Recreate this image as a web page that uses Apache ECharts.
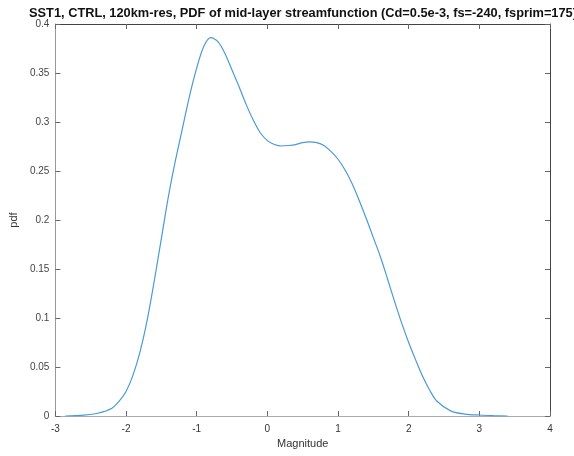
<!DOCTYPE html>
<html><head><meta charset="utf-8">
<script src="https://cdn.jsdelivr.net/npm/echarts@6/dist/echarts.min.js"></script>
<style>html,body{margin:0;padding:0;background:#fff}#c{width:574px;height:456px}</style>
</head><body><div id="c"></div>
<script>
const titleText = 'SST1, CTRL, 120km-res, PDF of mid-layer streamfunction (Cd=0.5e-3, fs=-240, fsprim=175)';
const xLabel = 'Magnitude';
const yLabel = 'pdf';
const xTicks = [-3, -2, -1, 0, 1, 2, 3, 4];
const yTicks = [0, 0.05, 0.1, 0.15, 0.2, 0.25, 0.3, 0.35, 0.4];
const magnitude = [-2.86, -2.6, -2.4, -2.2, -2.1, -2.0, -1.9, -1.8, -1.7, -1.6, -1.5, -1.4, -1.3, -1.2, -1.1, -1.0, -0.9, -0.8, -0.7, -0.6, -0.5, -0.4, -0.3, -0.2, -0.1, 0.0, 0.1, 0.2, 0.3, 0.4, 0.5, 0.6, 0.7, 0.8, 0.9, 1.0, 1.1, 1.2, 1.3, 1.4, 1.5, 1.6, 1.7, 1.8, 1.9, 2.0, 2.1, 2.2, 2.3, 2.4, 2.6, 2.8, 3.0, 3.2, 3.4];
const pdf = [0.0, 0.0008, 0.0028, 0.008, 0.015, 0.025, 0.042, 0.066, 0.098, 0.138, 0.181, 0.224, 0.261, 0.294, 0.327, 0.355, 0.377, 0.386, 0.382, 0.370, 0.353, 0.336, 0.318, 0.302, 0.289, 0.281, 0.277, 0.2755, 0.276, 0.277, 0.279, 0.2798, 0.279, 0.276, 0.270, 0.262, 0.251, 0.237, 0.220, 0.2015, 0.182, 0.1625, 0.140, 0.117, 0.095, 0.075, 0.057, 0.040, 0.026, 0.015, 0.005, 0.002, 0.001, 0.0004, 0.0];

const chart = echarts.init(document.getElementById('c'));
const grid = {left: 52, right: 24, top: 24, bottom: 40};
const tickStyle = {show: true, inside: true, length: 5, lineStyle: {color: '#666', width: 1}};
const font = 'Liberation Sans, Arial';
chart.setOption({
  animation: false,
  title: {text: titleText, left: 298, top: 2, textAlign: 'center',
    textStyle: {fontFamily: font, fontSize: 12.8, fontWeight: 'bold', color: '#111'}},
  grid: grid,
  xAxis: [{
    type: 'value', min: -3, max: 4, interval: 1,
    name: xLabel, nameLocation: 'middle', nameGap: 22,
    nameTextStyle: {fontFamily: font, fontSize: 11, color: '#333'},
    axisLine: {onZero: false, lineStyle: {color: '#aaa', width: 1}},
    axisTick: tickStyle,
    axisLabel: {fontFamily: font, fontSize: 10, color: '#333', margin: 8,
      formatter: v => xTicks.includes(v) ? String(v) : ''},
    splitLine: {show: false}
  }, {
    type: 'value', position: 'top', min: -3, max: 4, interval: 1,
    axisLine: {show: true, onZero: false, lineStyle: {color: '#444', width: 1}},
    axisTick: tickStyle, axisLabel: {show: false}, splitLine: {show: false}
  }],
  yAxis: [{
    type: 'value', min: 0, max: 0.4, interval: 0.05,
    name: yLabel, nameLocation: 'middle', nameGap: 36, nameRotate: 90,
    nameTextStyle: {fontFamily: font, fontSize: 11, color: '#333'},
    axisLine: {show: true, onZero: false, lineStyle: {color: '#999', width: 1}},
    axisTick: tickStyle,
    axisLabel: {fontFamily: font, fontSize: 10, color: '#444', margin: 6,
      formatter: v => { const t = yTicks.find(y => Math.abs(y - v) < 1e-9); return t === undefined ? '' : String(t); }},
    splitLine: {show: false}
  }, {
    type: 'value', position: 'right', min: 0, max: 0.4, interval: 0.05,
    axisLine: {show: true, onZero: false, lineStyle: {color: '#444', width: 1}},
    axisTick: tickStyle, axisLabel: {show: false}, splitLine: {show: false}
  }],
  series: [{
    type: 'line', xAxisIndex: 0, yAxisIndex: 0,
    data: magnitude.map((x, i) => [x, pdf[i]]),
    smooth: 0.3, showSymbol: false,
    lineStyle: {color: '#4a9ad8', width: 1.2}
  }]
});
</script></body></html>
